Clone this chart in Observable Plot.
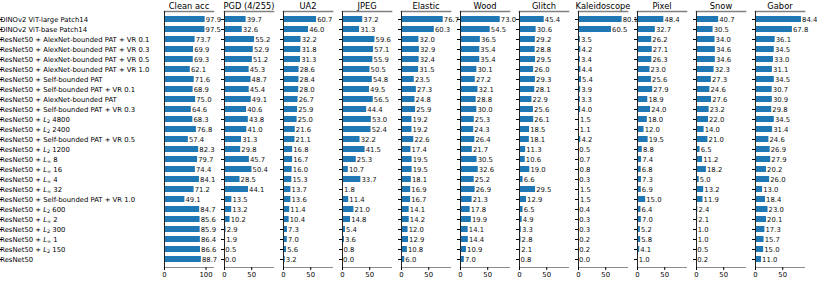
<!DOCTYPE html>
<html>
<head>
<meta charset="utf-8">
<script src="https://cdn.jsdelivr.net/npm/d3@7"></script>
<script src="https://cdn.jsdelivr.net/npm/@observablehq/plot@0.6"></script>
<style>
  html, body { margin: 0; padding: 0; background: #fff; }
  #chart { display: flex; width: 817px; height: 282px; background: #fff; }
</style>
</head>
<body>
<div id="chart"></div>
<script>
const models = [
  "DINOv2 ViT-large Patch14",
  "DINOv2 ViT-base Patch14",
  "ResNet50 + AlexNet-bounded PAT + VR 0.1",
  "ResNet50 + AlexNet-bounded PAT + VR 0.3",
  "ResNet50 + AlexNet-bounded PAT + VR 0.5",
  "ResNet50 + AlexNet-bounded PAT + VR 1.0",
  "ResNet50 + Self-bounded PAT",
  "ResNet50 + Self-bounded PAT + VR 0.1",
  "ResNet50 + AlexNet-bounded PAT",
  "ResNet50 + Self-bounded PAT + VR 0.3",
  "ResNet50 + L_2 4800",
  "ResNet50 + L_2 2400",
  "ResNet50 + Self-bounded PAT + VR 0.5",
  "ResNet50 + L_2 1200",
  "ResNet50 + L_∞ 8",
  "ResNet50 + L_∞ 16",
  "ResNet50 + L_∞ 4",
  "ResNet50 + L_∞ 32",
  "ResNet50 + Self-bounded PAT + VR 1.0",
  "ResNet50 + L_2 600",
  "ResNet50 + L_∞ 2",
  "ResNet50 + L_2 300",
  "ResNet50 + L_∞ 1",
  "ResNet50 + L_2 150",
  "ResNet50"
];

const metrics = ["Clean acc", "PGD (4/255)", "UA2", "JPEG", "Elastic", "Wood", "Glitch", "Kaleidoscope", "Pixel", "Snow", "Gabor"];

const cleanAcc = [97.9, 97.5, 73.7, 69.9, 69.3, 62.1, 71.6, 68.9, 75.0, 64.6, 68.3, 76.8, 57.4, 82.3, 79.7, 74.4, 84.1, 71.2, 49.1, 84.7, 85.6, 85.9, 86.4, 86.6, 88.7];
const pgd = [39.7, 32.6, 55.2, 52.9, 51.2, 45.3, 48.7, 45.4, 49.1, 40.6, 43.8, 41.0, 31.3, 29.8, 45.7, 50.4, 28.5, 44.1, 13.5, 13.2, 10.2, 2.9, 1.9, 0.5, 0.0];
const ua2 = [60.7, 46.0, 32.2, 31.8, 31.3, 28.6, 28.4, 28.0, 26.7, 25.9, 25.0, 21.6, 21.1, 16.8, 16.7, 16.0, 15.3, 13.7, 13.6, 11.4, 10.4, 7.3, 7.0, 5.6, 3.2];
const jpeg = [37.2, 31.3, 59.6, 57.1, 55.9, 50.5, 54.8, 49.5, 56.5, 44.4, 53.0, 52.4, 32.2, 41.5, 25.3, 10.7, 33.7, 1.8, 11.4, 21.0, 14.8, 5.4, 3.6, 0.8, 0.0];
const elastic = [76.7, 60.3, 32.0, 32.9, 32.4, 31.5, 23.5, 27.3, 24.8, 25.9, 19.2, 19.2, 22.6, 17.4, 19.5, 19.5, 18.1, 16.9, 16.7, 14.1, 14.2, 12.0, 12.9, 10.8, 6.0];
const wood = [73.0, 54.5, 36.5, 35.4, 35.4, 30.1, 27.2, 32.1, 28.8, 30.0, 25.3, 24.3, 26.4, 21.7, 30.5, 32.6, 25.2, 26.9, 21.3, 17.8, 19.9, 14.1, 14.4, 10.9, 7.0];
const glitch = [45.4, 30.6, 29.2, 28.8, 29.5, 26.0, 29.3, 28.1, 22.9, 25.6, 26.1, 18.5, 18.1, 11.3, 10.6, 19.0, 6.6, 29.5, 12.9, 6.5, 4.9, 3.3, 2.8, 2.1, 0.8];
const kaleidoscope = [80.1, 60.5, 3.5, 4.2, 3.4, 4.4, 5.4, 3.9, 3.3, 4.0, 1.5, 1.1, 4.2, 0.5, 0.7, 0.8, 0.3, 1.5, 1.5, 0.4, 0.3, 0.3, 0.2, 0.2, 0.0];
const pixel = [48.4, 32.7, 26.2, 27.1, 26.3, 23.0, 25.6, 27.9, 18.9, 24.0, 18.0, 12.0, 19.5, 8.8, 7.4, 6.8, 7.3, 6.9, 15.0, 6.4, 7.0, 5.2, 5.8, 4.1, 1.0];
const snow = [40.7, 30.5, 34.0, 34.6, 34.6, 32.3, 27.3, 24.6, 27.6, 23.2, 22.0, 14.0, 21.0, 6.5, 11.2, 18.2, 5.0, 13.2, 11.9, 2.4, 2.1, 1.0, 1.0, 0.5, 0.2];
const gabor = [84.4, 67.8, 36.1, 34.5, 33.0, 31.1, 34.5, 30.7, 30.9, 29.8, 34.5, 31.4, 24.6, 26.9, 27.9, 20.2, 26.0, 13.0, 18.4, 23.0, 20.1, 17.3, 15.7, 15.0, 11.0];

const cleanTicks = [0, 100];
const otherTicks = [0, 50];

const series = [cleanAcc, pgd, ua2, jpeg, elastic, wood, glitch, kaleidoscope, pixel, snow, gabor];
const rows = [];
metrics.forEach((m, j) => series[j].forEach((v, i) => rows.push({metric: m, model: models[i], value: v})));
const cleanRows = rows.filter(d => d.metric === metrics[0]);
const otherRows = rows.filter(d => d.metric !== metrics[0]);

const BLUE = "#1f77b4";
const FONT = "DejaVu Sans";
const LABEL_SIZE = 6.85;
const common = {
  height: 282,
  marginTop: 11,
  marginBottom: 15,
  style: {fontFamily: FONT, fontSize: LABEL_SIZE + "px", color: "#000", background: "transparent", overflow: "visible"},
  y: {domain: models, padding: 0.36, label: null}
};

function panelMarks(data, ticks) {
  return [
    Plot.frame({anchor: "top", stroke: "#808080", strokeWidth: 1.6}),
    Plot.frame({anchor: "bottom", stroke: "#8c8c8c", strokeWidth: 1}),
    Plot.barX(data, {x: "value", y: "model", fx: "metric", fill: BLUE}),
    Plot.ruleX([0], {stroke: "#222", strokeWidth: 1}),
    Plot.text(data, {x: "value", y: "model", fx: "metric", text: d => d.value.toFixed(1), textAnchor: "start", dx: 0.6, fontSize: LABEL_SIZE, fill: "#111"}),
    Plot.axisFx({anchor: "top", tickSize: 0, tickPadding: 2.5, fontSize: 8.3, label: null}),
    Plot.axisX({ticks, tickSize: 3, tickPadding: 2, fontSize: LABEL_SIZE, label: null})
  ];
}

const p1 = Plot.plot({
  ...common,
  width: 218,
  marginLeft: 164.3,
  marginRight: 4.7,
  fx: {domain: [metrics[0]], padding: 0, label: null},
  x: {domain: [0, 118]},
  marks: [
    ...panelMarks(cleanRows, cleanTicks),
    Plot.axisY({tickSize: 3, tickPadding: 0, textAnchor: "start", dx: -161.3, fontSize: LABEL_SIZE, label: null})
  ]
});

const p2 = Plot.plot({
  ...common,
  width: 599,
  marginLeft: 5,
  marginRight: 13,
  fx: {domain: metrics.slice(1), paddingInner: 0.17, paddingOuter: 0, label: null},
  x: {domain: [0, 90]},
  marks: [
    ...panelMarks(otherRows, otherTicks),
    Plot.axisY({facetAnchor: null, tickSize: 3, tickFormat: () => "", label: null})
  ]
});

const chart = document.getElementById("chart");
chart.appendChild(p1);
chart.appendChild(p2);

// italic L with subscript for the norm-bounded models
const NS = "http://www.w3.org/2000/svg";
p1.querySelectorAll('g[aria-label="y-axis tick label"] text').forEach(t => {
  const s = t.textContent;
  const m = s.match(/^(.*)L_(\S+)(.*)$/);
  if (!m) return;
  t.textContent = "";
  const add = (txt, attrs) => {
    const ts = document.createElementNS(NS, "tspan");
    ts.textContent = txt;
    for (const k in attrs) ts.setAttribute(k, attrs[k]);
    t.appendChild(ts);
  };
  add(m[1], {});
  add("L", {"font-style": "italic"});
  add(m[2], {"font-size": "4.9px", dy: "1.5"});
  add(m[3], {dy: "-1.5"});
});
</script>
</body>
</html>
